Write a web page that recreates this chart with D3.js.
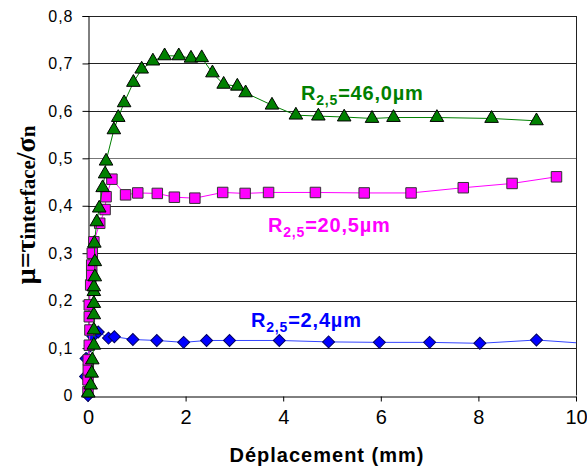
<!DOCTYPE html>
<html>
<head>
<meta charset="utf-8">
<script src="https://cdn.jsdelivr.net/npm/d3@7"></script>
<style>
  html, body { margin: 0; padding: 0; background: #fff; }
  svg { display: block; }
</style>
</head>
<body>
<svg id="chart" width="587" height="474"></svg>
<script>
// ---- data ----
const greenX = [0.006,0.055,0.076,0.088,0.12,0.12,0.12,0.12,0.12,0.12,0.14,0.14,0.13,0.18,0.23,0.30,0.35,0.37,0.53,0.62,0.74,0.93,1.10,1.33,1.57,1.86,2.11,2.33,2.55,2.78,3.06,3.23,3.77,4.26,4.72,5.25,5.82,6.26,7.15,8.27,9.19];
const greenY = [0.005,0.022,0.047,0.075,0.106,0.138,0.170,0.194,0.219,0.229,0.250,0.282,0.321,0.366,0.395,0.438,0.467,0.494,0.560,0.586,0.617,0.660,0.688,0.705,0.716,0.716,0.711,0.712,0.680,0.656,0.652,0.638,0.612,0.591,0.589,0.587,0.584,0.586,0.586,0.584,0.579];

const magentaX = [0.0,0.0,0.006,0.006,0.027,0.04,0.027,0.027,0.055,0.076,0.076,0.088,0.12,0.24,0.35,0.37,0.49,0.77,1.02,1.42,1.77,2.19,2.76,3.22,3.70,4.66,5.66,6.62,7.69,8.69,9.60];
const magentaY = [0.008,0.033,0.054,0.075,0.106,0.138,0.166,0.191,0.233,0.254,0.275,0.300,0.324,0.363,0.392,0.419,0.456,0.423,0.427,0.426,0.418,0.416,0.428,0.426,0.428,0.428,0.427,0.427,0.438,0.447,0.461];

const blueX = [0.0,-0.05,-0.04,0.05,0.1,0.21,0.42,0.54,0.92,1.41,1.96,2.43,2.90,3.92,4.93,5.97,7.00,8.03,9.19,10.3];
const blueY = [0.0,0.04,0.078,0.105,0.125,0.134,0.121,0.124,0.118,0.116,0.112,0.116,0.116,0.116,0.113,0.112,0.112,0.110,0.117,0.109];

const xTicks = [0,2,4,6,8,10];
const xTickLabels = ["0","2","4","6","8","10"];
const yTicks = [0,0.1,0.2,0.3,0.4,0.5,0.6,0.7,0.8];
const yTickLabels = ["0","0,1","0,2","0,3","0,4","0,5","0,6","0,7","0,8"];

const seriesLabels = ["46,0µm","20,5µm","2,4µm"];
const xTitle = "Déplacement (mm)";

// ---- layout ----
const margin = {left: 88, top: 16, right: 11, bottom: 78.5};
const W = 587, H = 474;
const w = W - margin.left - margin.right;
const h = H - margin.top - margin.bottom;

const svg = d3.select("#chart");
const g = svg.append("g").attr("transform", `translate(${margin.left},${margin.top})`);

const x = d3.scaleLinear().domain([0,10]).range([0,w]);
const y = d3.scaleLinear().domain([0,0.8]).range([h,0]);

// gridlines
g.append("g").selectAll("line").data(yTicks.filter(d => d > 0)).join("line")
  .attr("x1", 0).attr("x2", w)
  .attr("y1", d => Math.round(y(d)) + 0.5).attr("y2", d => Math.round(y(d)) + 0.5)
  .attr("stroke", d => Math.abs(d-0.5) < 1e-6 ? "#777" : "#222")
  .attr("stroke-width", 1);

// right border
g.append("line").attr("x1", Math.round(w)+0.5).attr("x2", Math.round(w)+0.5)
  .attr("y1", y(0.8)).attr("y2", h).attr("stroke", "#222");

// axes
const yAxis = d3.axisLeft(y).tickValues(yTicks).tickSize(6).tickPadding(9)
  .tickFormat((d,i) => yTickLabels[i]);
const yg = g.append("g").attr("transform", "translate(0.5,0)").call(yAxis);
yg.select(".domain").attr("stroke", "#000");
yg.selectAll(".tick line").attr("stroke", "#000");
yg.selectAll("text").attr("font-family", "'Liberation Sans', Arial, sans-serif")
  .attr("font-size", "16px").attr("fill", "#000").attr("letter-spacing", "1px");

const xAxis = d3.axisBottom(x).tickValues(xTicks).tickSize(5).tickPadding(8)
  .tickSizeOuter(0)
  .tickFormat((d,i) => xTickLabels[i]);
const xg = g.append("g").attr("transform", `translate(0,${Math.round(h)+0.5})`).call(xAxis);
xg.select(".domain").attr("stroke", "#000");
xg.selectAll(".tick line").attr("stroke", "#000");
xg.selectAll("text").attr("font-family", "'Liberation Sans', Arial, sans-serif")
  .attr("font-size", "20px").attr("fill", "#000");

// clip
svg.append("defs").append("clipPath").attr("id", "clip")
  .append("rect").attr("x", -20).attr("y", -20).attr("width", w + 20).attr("height", h + 40);

const line = d3.line().x(d => x(d[0])).y(d => y(d[1]));

function drawSeries(xs, ys, color, stroke, lineColor, symbolType, size, rot) {
  const data = xs.map((v,i) => [v, ys[i]]);
  const sg = g.append("g").attr("clip-path", "url(#clip)");
  sg.append("path").datum(data).attr("d", line)
    .attr("fill", "none").attr("stroke", lineColor).attr("stroke-width", 1);
  sg.selectAll("path.m").data(data).join("path").attr("class","m")
    .attr("transform", d => `translate(${x(d[0])},${y(d[1])}) rotate(${rot})`)
    .attr("d", d3.symbol().type(symbolType).size(size))
    .attr("fill", color).attr("stroke", stroke).attr("stroke-width", 1);
}

drawSeries(blueX, blueY, "#0000FF", "#000060", "#3344ff", d3.symbolSquare, 72, 45);
drawSeries(magentaX, magentaY, "#FF00FF", "#333", "#FF00FF", d3.symbolSquare, 110, 0);
drawSeries(greenX, greenY, "#008000", "#000", "#008000", d3.symbolTriangle, 80, 0);

// series labels
const labelFont = "'Liberation Sans', Arial, sans-serif";
function seriesLabel(px, py, txt, color) {
  const t = svg.append("text").attr("x", px).attr("y", py)
    .attr("font-family", labelFont).attr("font-weight", "bold")
    .attr("font-size", "20px").attr("fill", color).attr("letter-spacing", "0.8px");
  t.append("tspan").text("R");
  t.append("tspan").attr("font-size", "14px").attr("dy", 5).text("2,5");
  t.append("tspan").attr("dy", -5).text("=" + txt);
}
seriesLabel(301, 99.5, seriesLabels[0], "#008000");
seriesLabel(268, 231.5, seriesLabels[1], "#FF00FF");
seriesLabel(251, 327, seriesLabels[2], "#0000FF");

// x title
svg.append("text").attr("x", 327).attr("y", 462).attr("text-anchor", "middle")
  .attr("font-family", labelFont).attr("font-weight", "bold").attr("font-size", "20px")
  .attr("letter-spacing", "1px").attr("fill", "#000").text(xTitle);

// y title
const yt = svg.append("text").attr("transform", "translate(35,205) rotate(-90)")
  .attr("text-anchor", "middle")
  .attr("font-family", "'Liberation Serif', 'Times New Roman', serif")
  .attr("font-weight", "bold").attr("fill", "#000");
yt.append("tspan").attr("font-size", "28px").text("µ=τ");
yt.append("tspan").attr("font-size", "21px").text("interface");
yt.append("tspan").attr("font-size", "28px").text("/σ");
yt.append("tspan").attr("font-size", "21px").text("n");
</script>
</body>
</html>
